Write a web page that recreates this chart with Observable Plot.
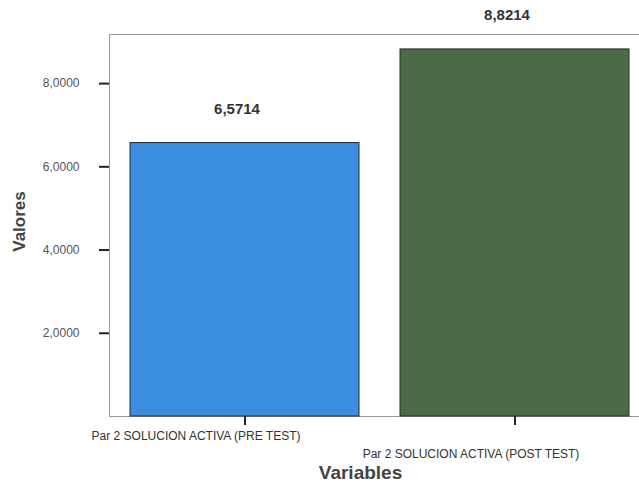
<!DOCTYPE html>
<html><head><meta charset="utf-8">
<script src="https://cdn.jsdelivr.net/npm/d3@7"></script>
<script src="https://cdn.jsdelivr.net/npm/@observablehq/plot@0.6"></script>
<style>body{margin:0;background:#fff;} #chart svg{overflow:visible;}</style>
</head><body><div id="chart"></div>
<script>
const categories = ["Par 2 SOLUCION ACTIVA (PRE TEST)", "Par 2 SOLUCION ACTIVA (POST TEST)"];
const values = [6.5714, 8.8214];
const valueLabels = ["6,5714", "8,8214"];
const barColors = ["#3b8de2", "#4d6a48"];
const yTicks = [2, 4, 6, 8];
const yTickLabels = ["2,0000", "4,0000", "6,0000", "8,0000"];
const xTitle = "Variables";
const yTitle = "Valores";

const data = categories.map((c, i) => ({category: c, value: values[i], color: barColors[i], label: valueLabels[i]}));
const font = "'Liberation Sans', Arial, sans-serif";

const chart = Plot.plot({
  width: 639,
  height: 483,
  marginLeft: 109,
  marginRight: 0,
  marginTop: 34,
  marginBottom: 67,
  style: {fontFamily: font, background: "#fff"},
  x: {domain: categories, range: [109, 649], paddingInner: 0.152, paddingOuter: 0.076},
  y: {domain: [0, 9.18]},
  marks: [
    Plot.frame({stroke: "#9a9a9a"}),
    Plot.barY(data, {x: "category", y: "value", fill: "color", stroke: "#2a2a2a", strokeWidth: 1}),
    Plot.text(data, {x: "category", y: "value", text: "label", lineAnchor: "bottom", dy: -29, dx: -8,
      fontSize: 15, fontWeight: "bold", fill: "#333"}),
    Plot.axisY({ticks: yTicks, tickFormat: d => yTickLabels[yTicks.indexOf(d)], tickSize: 10, tickPadding: 20,
      strokeWidth: 2, stroke: "#222", fill: "#555", fontSize: 12, label: null}),
    Plot.axisX({tickSize: 9, tickFormat: () => "", strokeWidth: 2, stroke: "#222", label: null}),
    Plot.text([data[0]], {x: "category", frameAnchor: "bottom", text: "category", lineAnchor: "bottom",
      dy: 23, dx: -49, fontSize: 12, fill: "#333"}),
    Plot.text([data[1]], {x: "category", frameAnchor: "bottom", text: "category", lineAnchor: "bottom",
      dy: 41, dx: -44, fontSize: 12, fill: "#333"}),
    Plot.text([xTitle], {frameAnchor: "bottom", lineAnchor: "bottom", dy: 62, dx: -14,
      fontSize: 19, fontWeight: "bold", fill: "#444"}),
    Plot.text([yTitle], {frameAnchor: "left", textAnchor: "middle", rotate: -90, dx: -90, dy: -4,
      fontSize: 17, fontWeight: "bold", fill: "#444"})
  ]
});
document.getElementById("chart").append(chart);
</script>
</body></html>
